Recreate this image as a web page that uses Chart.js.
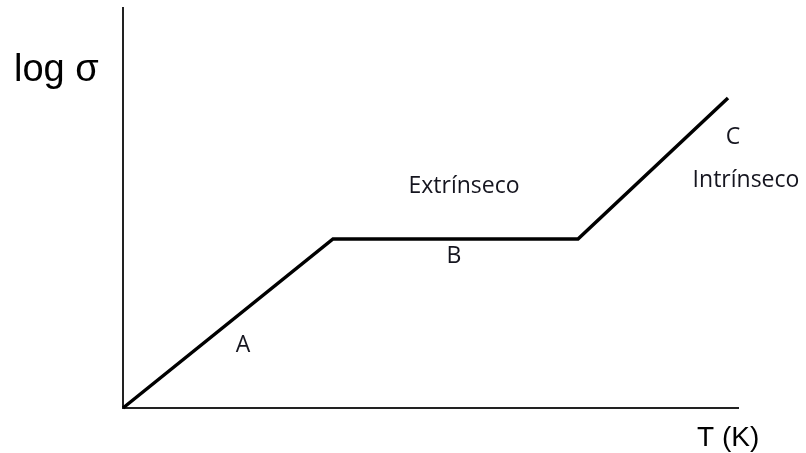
<!DOCTYPE html>
<html>
<head>
<meta charset="utf-8">
<script src="https://cdn.jsdelivr.net/npm/chart.js@4"></script>
<style>
html,body{margin:0;padding:0;background:#fff;}
canvas{display:block;}
</style>
</head>
<body>
<canvas id="c" width="806" height="453"></canvas>
<script>
// Data (arbitrary units)
const tValues = [0, 2.1, 4.55, 6.05];
const logSigma = [0, 1.69, 1.69, 3.1];
const xMax = 6.15;
const yMax = 4.0;
const regionLabels = ["A", "B", "Extrínseco", "C", "Intrínseco"];
const regionX = [1.2, 3.31, 3.41, 6.1, 6.23];
const regionY = [0.63, 1.52, 2.22, 2.71, 2.28];
const xTitle = "T (K)";
const yTitle = "log σ";

const textPlugin = {
  id: 'texts',
  afterDraw(chart) {
    const ctx = chart.ctx;
    const xs = chart.scales.x, ys = chart.scales.y;
    const area = chart.chartArea;
    ctx.save();
    ctx.fillStyle = '#15151f';
    ctx.textAlign = 'center';
    ctx.textBaseline = 'middle';
    ctx.font = '23px "Open Sans", Lato, sans-serif';
    regionLabels.forEach((t, i) => {
      ctx.fillText(t, xs.getPixelForValue(regionX[i]), ys.getPixelForValue(regionY[i]));
    });
    ctx.font = '38px "Liberation Sans", Arial, sans-serif';
    ctx.textAlign = 'left';
    ctx.fillStyle = '#000';
    ctx.fillText(yTitle, area.left - 109, area.top + 63);
    ctx.font = '28px "Liberation Sans", Arial, sans-serif';
    ctx.fillText(xTitle, area.right - 41, area.bottom + 30);
    ctx.restore();
  }
};

new Chart(document.getElementById('c'), {
  type: 'line',
  data: {
    datasets: [{
      data: tValues.map((x, i) => ({x: x, y: logSigma[i]})),
      borderColor: '#000',
      borderWidth: 3.5,
      pointRadius: 0,
      fill: false,
      tension: 0,
      clip: false
    }]
  },
  options: {
    responsive: false,
    animation: false,
    devicePixelRatio: 1,
    layout: {padding: {left: 115, top: 8, right: 68, bottom: 37}},
    plugins: {legend: {display: false}, tooltip: {enabled: false}},
    scales: {
      x: {
        type: 'linear', min: 0, max: xMax,
        ticks: {display: false},
        grid: {display: false},
        border: {display: true, color: '#222', width: 2}
      },
      y: {
        type: 'linear', min: 0, max: yMax,
        ticks: {display: false},
        grid: {display: false},
        border: {display: true, color: '#222', width: 2}
      }
    }
  },
  plugins: [textPlugin]
});
</script>
</body>
</html>
